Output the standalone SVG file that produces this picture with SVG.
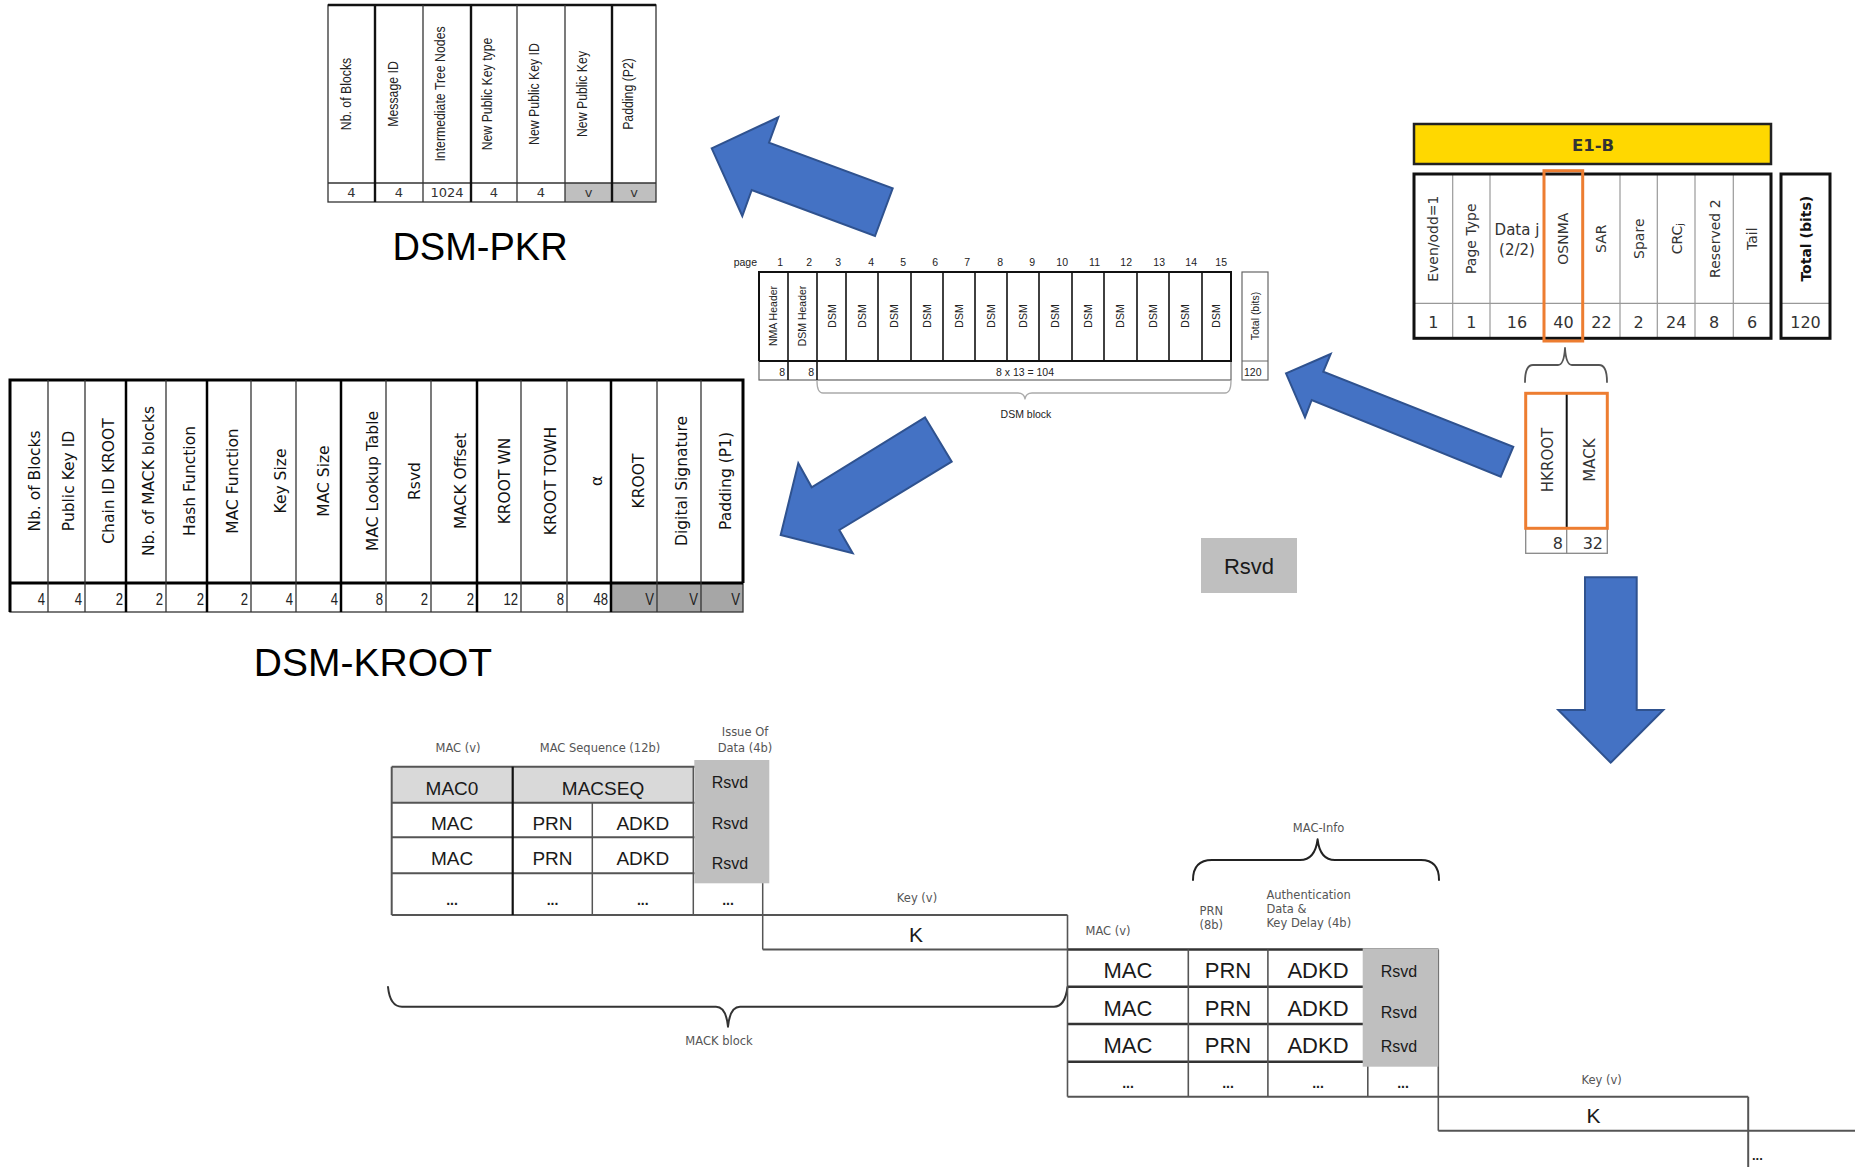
<svg xmlns="http://www.w3.org/2000/svg" width="1855" height="1167" viewBox="0 0 1855 1167">
<style>
.bg{fill:#fff}
.arrow{fill:#4472C4;stroke:#2F528F;stroke-width:2;stroke-linejoin:miter}
.thick{stroke:#111;stroke-width:2.4;fill:none}
.thin{stroke:#333;stroke-width:1.3;fill:none}
.gline{stroke:#999;stroke-width:1.2;fill:none}
.pk{font-family:"Liberation Sans",Arial,sans-serif;font-size:15px;fill:#222}
.pkv{font-family:"DejaVu Sans",Verdana,sans-serif;font-size:13px;fill:#333}
.kr{font-family:"DejaVu Sans",Verdana,sans-serif;font-size:15.5px;fill:#111}
.krv{font-family:"Liberation Sans",Arial,sans-serif;font-size:16px;fill:#222}
.title{font-family:"Liberation Sans",Arial,sans-serif;fill:#000}
.ds{font-family:"Liberation Sans",Arial,sans-serif;font-size:10.5px;fill:#222}
.dj{font-family:"DejaVu Sans",Verdana,sans-serif;fill:#333}
.sm{font-family:"DejaVu Sans",Verdana,sans-serif;font-size:11.5px;fill:#555}
.big{font-family:"Liberation Sans",Arial,sans-serif;fill:#1a1a1a}
.orange{fill:none;stroke:#ED7D31;stroke-width:3}
.brace{fill:none;stroke-linecap:round;stroke-linejoin:round}
</style>
<rect class="bg" x="0" y="0" width="1855" height="1167"/>

<!-- DSM-PKR -->
<g id="dsm-pkr">
  <rect x="565" y="183" width="91" height="19" fill="#BFBFBF"/>
  <rect x="328" y="5" width="328" height="197" class="thin"/>
  <line x1="328" y1="5" x2="656" y2="5" class="thick"/>
  <line x1="328" y1="183" x2="656" y2="183" class="thin"/>
  <line x1="375" y1="5" x2="375" y2="202" class="thick"/>
  <line x1="423" y1="5" x2="423" y2="202" class="thin"/>
  <line x1="471" y1="5" x2="471" y2="202" class="thick"/>
  <line x1="517" y1="5" x2="517" y2="202" class="thin"/>
  <line x1="565" y1="5" x2="565" y2="202" class="thin"/>
  <line x1="612" y1="5" x2="612" y2="202" class="thick"/>
  <g class="pk" text-anchor="middle" dominant-baseline="central">
    <text transform="translate(346 94) rotate(-90) scale(0.82 1)">Nb. of Blocks</text>
    <text transform="translate(393 94) rotate(-90) scale(0.82 1)">Message ID</text>
    <text transform="translate(440 94) rotate(-90) scale(0.82 1)">Intermediate Tree Nodes</text>
    <text transform="translate(487 94) rotate(-90) scale(0.82 1)">New Public Key type</text>
    <text transform="translate(534 94) rotate(-90) scale(0.82 1)">New Public Key ID</text>
    <text transform="translate(582 94) rotate(-90) scale(0.82 1)">New Public Key</text>
    <text transform="translate(628 94) rotate(-90) scale(0.82 1)">Padding (P2)</text>
  </g>
  <g class="pkv" text-anchor="middle">
    <text x="351.5" y="197">4</text>
    <text x="399" y="197">4</text>
    <text x="447" y="197">1024</text>
    <text x="494" y="197">4</text>
    <text x="541" y="197">4</text>
    <text x="588.5" y="197">v</text>
    <text x="634" y="197">v</text>
  </g>
  <text class="title" x="480" y="260" font-size="38" text-anchor="middle">DSM-PKR</text>
</g>

<!-- DSM-KROOT -->
<g id="dsm-kroot">
  <rect x="611" y="583" width="132" height="29" fill="#A6A6A6"/>
  <rect x="10" y="380" width="733" height="232" class="thin"/>
  <path d="M10 612 V380 H743 V583 M10 583 H743" fill="none" stroke="#000" stroke-width="3"/>
  <g class="thin">
    <line x1="48" y1="380" x2="48" y2="612"/><line x1="85" y1="380" x2="85" y2="612"/>
    <line x1="166" y1="380" x2="166" y2="612"/><line x1="251" y1="380" x2="251" y2="612"/>
    <line x1="296" y1="380" x2="296" y2="612"/><line x1="386" y1="380" x2="386" y2="612"/>
    <line x1="431" y1="380" x2="431" y2="612"/><line x1="521" y1="380" x2="521" y2="612"/>
    <line x1="567" y1="380" x2="567" y2="612"/><line x1="657" y1="380" x2="657" y2="612"/>
    <line x1="701" y1="380" x2="701" y2="612"/>
  </g>
  <g stroke="#000" stroke-width="2.5">
    <line x1="126" y1="380" x2="126" y2="612"/><line x1="207" y1="380" x2="207" y2="612"/>
    <line x1="341" y1="380" x2="341" y2="612"/><line x1="477" y1="380" x2="477" y2="612"/>
    <line x1="611" y1="380" x2="611" y2="612"/>
  </g>
  <g class="kr" text-anchor="middle" dominant-baseline="central">
    <text transform="translate(35 481) rotate(-90)">Nb. of Blocks</text>
    <text transform="translate(69 481) rotate(-90)">Public Key ID</text>
    <text transform="translate(109 481) rotate(-90)">Chain ID KROOT</text>
    <text transform="translate(149 481) rotate(-90)">Nb. of MACK blocks</text>
    <text transform="translate(190 481) rotate(-90)">Hash Function</text>
    <text transform="translate(233 481) rotate(-90)">MAC Function</text>
    <text transform="translate(281 481) rotate(-90)">Key Size</text>
    <text transform="translate(324 481) rotate(-90)">MAC Size</text>
    <text transform="translate(373 481) rotate(-90)">MAC Lookup Table</text>
    <text transform="translate(415 481) rotate(-90)">Rsvd</text>
    <text transform="translate(461 481) rotate(-90)">MACK Offset</text>
    <text transform="translate(505 481) rotate(-90)">KROOT WN</text>
    <text transform="translate(551 481) rotate(-90)">KROOT TOWH</text>
    <text transform="translate(597 481) rotate(-90)">α</text>
    <text transform="translate(639 481) rotate(-90)">KROOT</text>
    <text transform="translate(682 481) rotate(-90)">Digital Signature</text>
    <text transform="translate(726 481) rotate(-90)">Padding (P1)</text>
  </g>
  <g class="krv" text-anchor="end">
    <text transform="translate(45 605) scale(0.82 1)">4</text>
    <text transform="translate(82 605) scale(0.82 1)">4</text>
    <text transform="translate(123 605) scale(0.82 1)">2</text>
    <text transform="translate(163 605) scale(0.82 1)">2</text>
    <text transform="translate(204 605) scale(0.82 1)">2</text>
    <text transform="translate(248 605) scale(0.82 1)">2</text>
    <text transform="translate(293 605) scale(0.82 1)">4</text>
    <text transform="translate(338 605) scale(0.82 1)">4</text>
    <text transform="translate(383 605) scale(0.82 1)">8</text>
    <text transform="translate(428 605) scale(0.82 1)">2</text>
    <text transform="translate(474 605) scale(0.82 1)">2</text>
    <text transform="translate(518 605) scale(0.82 1)">12</text>
    <text transform="translate(564 605) scale(0.82 1)">8</text>
    <text transform="translate(608 605) scale(0.82 1)">48</text>
    <text transform="translate(654 605) scale(0.82 1)">V</text>
    <text transform="translate(698 605) scale(0.82 1)">V</text>
    <text transform="translate(740 605) scale(0.82 1)">V</text>
  </g>
  <text class="title" x="373" y="676" font-size="39" text-anchor="middle">DSM-KROOT</text>
</g>

<!-- DSM block table -->
<g id="dsm-block">
  <text class="ds" x="757" y="266" text-anchor="end">page</text>
  <g class="ds" text-anchor="end">
    <text x="783" y="266">1</text><text x="812" y="266">2</text><text x="841" y="266">3</text>
    <text x="874" y="266">4</text><text x="906" y="266">5</text><text x="938" y="266">6</text>
    <text x="970" y="266">7</text><text x="1003" y="266">8</text><text x="1035" y="266">9</text>
    <text x="1068" y="266">10</text><text x="1100" y="266">11</text><text x="1132" y="266">12</text>
    <text x="1165" y="266">13</text><text x="1197" y="266">14</text><text x="1227" y="266">15</text>
  </g>
  <rect x="759" y="272" width="472" height="108" fill="none" stroke="#666" stroke-width="1.2"/>
  <path d="M759 361 V272 H1231 V361 H759" fill="none" stroke="#111" stroke-width="2"/>
  <g stroke="#111" stroke-width="1.6">
    <line x1="788" y1="272" x2="788" y2="380"/><line x1="817" y1="272" x2="817" y2="380"/>
    <line x1="846" y1="272" x2="846" y2="361"/><line x1="878" y1="272" x2="878" y2="361"/>
    <line x1="911" y1="272" x2="911" y2="361"/><line x1="943" y1="272" x2="943" y2="361"/>
    <line x1="975" y1="272" x2="975" y2="361"/><line x1="1007" y1="272" x2="1007" y2="361"/>
    <line x1="1039" y1="272" x2="1039" y2="361"/><line x1="1072" y1="272" x2="1072" y2="361"/>
    <line x1="1104" y1="272" x2="1104" y2="361"/><line x1="1137" y1="272" x2="1137" y2="361"/>
    <line x1="1169" y1="272" x2="1169" y2="361"/><line x1="1202" y1="272" x2="1202" y2="361"/>
  </g>
  <g class="ds" text-anchor="middle" dominant-baseline="central">
    <text transform="translate(773 316) rotate(-90)">NMA  Header</text>
    <text transform="translate(802 316) rotate(-90)">DSM Header</text>
  </g>
  <g class="ds" font-size="11" text-anchor="middle" dominant-baseline="central">
    <text transform="translate(832 316) rotate(-90)">DSM</text>
    <text transform="translate(862 316) rotate(-90)">DSM</text>
    <text transform="translate(894 316) rotate(-90)">DSM</text>
    <text transform="translate(927 316) rotate(-90)">DSM</text>
    <text transform="translate(959 316) rotate(-90)">DSM</text>
    <text transform="translate(991 316) rotate(-90)">DSM</text>
    <text transform="translate(1023 316) rotate(-90)">DSM</text>
    <text transform="translate(1055 316) rotate(-90)">DSM</text>
    <text transform="translate(1088 316) rotate(-90)">DSM</text>
    <text transform="translate(1120 316) rotate(-90)">DSM</text>
    <text transform="translate(1153 316) rotate(-90)">DSM</text>
    <text transform="translate(1185 316) rotate(-90)">DSM</text>
    <text transform="translate(1216 316) rotate(-90)">DSM</text>
  </g>
  <g class="ds">
    <text x="785" y="376" text-anchor="end">8</text>
    <text x="814" y="376" text-anchor="end">8</text>
    <text x="1025" y="376" text-anchor="middle">8 x 13 = 104</text>
  </g>
  <rect x="1242" y="272" width="26" height="108" fill="none" stroke="#666" stroke-width="1.2"/>
  <line x1="1242" y1="361" x2="1268" y2="361" stroke="#666" stroke-width="1"/>
  <text class="ds" transform="translate(1255 316) rotate(-90)" text-anchor="middle" dominant-baseline="central" font-size="10">Total (bits)</text>
  <text class="ds" x="1244" y="376">120</text>
  <path class="brace" d="M817 381 Q817 393 823 393 L1018 393 Q1024 393 1025 399 Q1026 393 1032 393 L1225 393 Q1231 393 1231 381" stroke="#aaa" stroke-width="1.3"/>
  <text class="ds" x="1026" y="418" text-anchor="middle" font-size="11" fill="#333">DSM block</text>
</g>

<!-- E1-B page -->
<g id="e1b">
  <rect x="1414" y="124" width="357" height="40" fill="#FFD800" stroke="#222" stroke-width="2.5"/>
  <text class="dj" x="1593" y="151" font-size="16.5" font-weight="bold" text-anchor="middle" fill="#111">E1-B</text>
  <g class="gline">
    <line x1="1414" y1="303.3" x2="1771" y2="303.3"/>
    <line x1="1452.7" y1="174" x2="1452.7" y2="338"/><line x1="1490" y1="174" x2="1490" y2="338"/>
    <line x1="1544" y1="174" x2="1544" y2="338"/><line x1="1582.7" y1="174" x2="1582.7" y2="338"/>
    <line x1="1620" y1="174" x2="1620" y2="338"/><line x1="1657.3" y1="174" x2="1657.3" y2="338"/>
    <line x1="1695" y1="174" x2="1695" y2="338"/><line x1="1733.3" y1="174" x2="1733.3" y2="338"/>
    <line x1="1781" y1="303.3" x2="1830" y2="303.3"/>
  </g>
  <rect x="1414" y="174" width="357" height="164.3" fill="none" stroke="#111" stroke-width="3"/>
  <rect x="1781" y="174" width="49" height="164.3" fill="none" stroke="#111" stroke-width="3"/>
  <g class="dj" font-size="14" text-anchor="middle" dominant-baseline="central">
    <text transform="translate(1433.4 238.7) rotate(-90)">Even/odd=1</text>
    <text transform="translate(1471.4 238.7) rotate(-90)">Page Type</text>
    <text transform="translate(1563.4 238.7) rotate(-90)">OSNMA</text>
    <text transform="translate(1601.4 238.7) rotate(-90)">SAR</text>
    <text transform="translate(1639 238.7) rotate(-90)">Spare</text>
    <text transform="translate(1677 238.7) rotate(-90)">CRC<tspan font-size="9" dy="3">j</tspan></text>
    <text transform="translate(1714.5 238.7) rotate(-90)">Reserved 2</text>
    <text transform="translate(1752 238.7) rotate(-90)">Tail</text>
    <text transform="translate(1806 238.7) rotate(-90)" font-weight="bold" fill="#111">Total (bits)</text>
  </g>
  <g class="dj" font-size="15" text-anchor="middle" fill="#555">
    <text x="1517" y="235">Data j</text>
    <text x="1517" y="255">(2/2)</text>
  </g>
  <g class="dj" font-size="16" text-anchor="middle">
    <text x="1433.4" y="328.3">1</text><text x="1471.4" y="328.3">1</text>
    <text x="1517" y="328.3">16</text><text x="1563.4" y="328.3">40</text>
    <text x="1601.4" y="328.3">22</text><text x="1638.7" y="328.3">2</text>
    <text x="1676.2" y="328.3">24</text><text x="1714.2" y="328.3">8</text>
    <text x="1752.2" y="328.3">6</text><text x="1805.5" y="328.3">120</text>
  </g>
  <rect class="orange" x="1544" y="170.7" width="38.7" height="170.3"/>
</g>

<!-- OSNMA split -->
<g id="osnma-split">
  <path class="brace" d="M1525 382 Q1525 365 1533 365 L1558 365 Q1564 365 1565 348 Q1566 365 1572 365 L1599 365 Q1607 365 1607 382" stroke="#555" stroke-width="1.8"/>
  <rect x="1525.7" y="528.3" width="81.6" height="25" fill="none" stroke="#888" stroke-width="1.3"/>
  <line x1="1566.7" y1="528.3" x2="1566.7" y2="553.3" stroke="#888" stroke-width="1.3"/>
  <line x1="1566.7" y1="393.3" x2="1566.7" y2="528.3" stroke="#111" stroke-width="2"/>
  <rect class="orange" x="1525.7" y="393.3" width="81.6" height="135"/>
  <g class="dj" font-size="15" text-anchor="middle" dominant-baseline="central">
    <text transform="translate(1548 460) rotate(-90)">HKROOT</text>
    <text transform="translate(1590 460) rotate(-90)">MACK</text>
  </g>
  <g class="dj" font-size="16" text-anchor="end">
    <text x="1563" y="548.5">8</text>
    <text x="1603" y="548.5">32</text>
  </g>
</g>

<!-- Standalone Rsvd -->
<g id="rsvd">
  <rect x="1201" y="538" width="96" height="55" fill="#BFBFBF"/>
  <text class="big" x="1249" y="574" font-size="22" text-anchor="middle">Rsvd</text>
</g>

<!-- MACK block table -->
<g id="mack-table">
  <g class="sm" text-anchor="middle">
    <text x="458" y="752">MAC (v)</text>
    <text x="600" y="752">MAC Sequence (12b)</text>
    <text x="745" y="736">Issue Of</text>
    <text x="745" y="752">Data (4b)</text>
  </g>
  <rect x="391.7" y="766.7" width="301.6" height="36" fill="#D9D9D9"/>
  <g stroke="#555" stroke-width="2" fill="none">
    <line x1="391.7" y1="766.7" x2="762.7" y2="766.7"/>
    <line x1="391.7" y1="802.7" x2="762.7" y2="802.7"/>
    <line x1="391.7" y1="837.3" x2="762.7" y2="837.3"/>
    <line x1="391.7" y1="873.3" x2="762.7" y2="873.3"/>
    <line x1="391.7" y1="915" x2="762.7" y2="915"/>
    <line x1="391.7" y1="766.7" x2="391.7" y2="915"/>
    <line x1="592.3" y1="802.7" x2="592.3" y2="915" stroke-width="1.5"/>
    <line x1="693.3" y1="766.7" x2="693.3" y2="915" stroke-width="1.5"/>
    <line x1="762.7" y1="766.7" x2="762.7" y2="949.5" stroke-width="1.5"/>
  </g>
  <line x1="512.7" y1="766.7" x2="512.7" y2="915" stroke="#111" stroke-width="2.2"/>
  <rect x="694.3" y="760" width="75" height="123.3" fill="#BFBFBF"/>
  <g class="big" font-size="19" text-anchor="middle">
    <text x="452" y="795">MAC0</text>
    <text x="603" y="795">MACSEQ</text>
    <text x="452" y="830">MAC</text><text x="552.5" y="830">PRN</text><text x="642.8" y="830">ADKD</text>
    <text x="452" y="865">MAC</text><text x="552.5" y="865">PRN</text><text x="642.8" y="865">ADKD</text>
  </g>
  <g class="big" font-size="14" font-weight="bold" text-anchor="middle" fill="#333">
    <text x="452" y="905">...</text><text x="552.5" y="905">...</text>
    <text x="642.8" y="905">...</text><text x="728" y="905">...</text>
  </g>
  <g class="big" font-size="16" text-anchor="middle">
    <text x="730" y="788">Rsvd</text>
    <text x="730" y="829">Rsvd</text>
    <text x="730" y="869">Rsvd</text>
  </g>
</g>

<!-- Key 1 -->
<g id="key1">
  <text class="sm" x="917" y="901.7" text-anchor="middle">Key (v)</text>
  <g stroke="#555" stroke-width="2" fill="none">
    <line x1="762.7" y1="915" x2="1067.5" y2="915"/>
    <line x1="762.7" y1="949.5" x2="1067.5" y2="949.5"/>
  </g>
  <text class="big" x="916" y="942" font-size="21" text-anchor="middle">K</text>
</g>

<!-- MACK block brace -->
<g id="mack-brace">
  <path class="brace" d="M388 987 Q390 1006.7 402 1006.7 L716 1006.7 Q726 1006.7 728 1026.7 Q730 1006.7 740 1006.7 L1054 1006.7 Q1065 1006.7 1067.5 987" stroke="#333" stroke-width="2"/>
  <text class="sm" x="719" y="1045" text-anchor="middle">MACK block</text>
</g>

<!-- MAC-Info table -->
<g id="macinfo-table">
  <path class="brace" d="M1193 880 Q1193 860 1212 860 L1300 860 Q1315 860 1317.6 839.3 Q1320 860 1335 860 L1421 860 Q1439 860 1439 880" stroke="#222" stroke-width="2"/>
  <text class="sm" x="1318.6" y="832" text-anchor="middle">MAC-Info</text>
  <g class="sm">
    <text x="1108" y="935" text-anchor="middle">MAC (v)</text>
    <text x="1199.5" y="915">PRN</text>
    <text x="1199.5" y="929">(8b)</text>
    <text x="1266.4" y="899">Authentication</text>
    <text x="1266.4" y="913">Data &amp;</text>
    <text x="1266.4" y="927">Key Delay (4b)</text>
  </g>
  <g stroke="#333" stroke-width="2.4" fill="none">
    <line x1="1067.5" y1="949.5" x2="1438.3" y2="949.5"/>
    <line x1="1067.5" y1="986.7" x2="1438.3" y2="986.7"/>
    <line x1="1067.5" y1="1024" x2="1438.3" y2="1024"/>
    <line x1="1067.5" y1="1061.7" x2="1438.3" y2="1061.7"/>
    <line x1="1067.5" y1="1096.7" x2="1748.2" y2="1096.7" stroke="#555" stroke-width="2"/>
  </g>
  <g stroke="#555" stroke-width="1.6" fill="none">
    <line x1="1067.5" y1="915" x2="1067.5" y2="1096.7"/>
    <line x1="1188.3" y1="949.5" x2="1188.3" y2="1096.7"/>
    <line x1="1267.9" y1="949.5" x2="1267.9" y2="1096.7"/>
    <line x1="1367.8" y1="949.5" x2="1367.8" y2="1096.7"/>
    <line x1="1438.3" y1="949.5" x2="1438.3" y2="1130.7"/>
  </g>
  <rect x="1362.7" y="948.3" width="75.6" height="118.4" fill="#BFBFBF"/>
  <g class="big" font-size="22" text-anchor="middle">
    <text x="1128" y="978">MAC</text><text x="1228" y="978">PRN</text><text x="1318" y="978">ADKD</text>
    <text x="1128" y="1016">MAC</text><text x="1228" y="1016">PRN</text><text x="1318" y="1016">ADKD</text>
    <text x="1128" y="1053">MAC</text><text x="1228" y="1053">PRN</text><text x="1318" y="1053">ADKD</text>
  </g>
  <g class="big" font-size="14" font-weight="bold" text-anchor="middle" fill="#333">
    <text x="1128" y="1088">...</text><text x="1228" y="1088">...</text>
    <text x="1318" y="1088">...</text><text x="1403" y="1088">...</text>
  </g>
  <g class="big" font-size="16" text-anchor="middle">
    <text x="1399" y="977">Rsvd</text>
    <text x="1399" y="1018">Rsvd</text>
    <text x="1399" y="1052">Rsvd</text>
  </g>
</g>

<!-- Key 2 -->
<g id="key2">
  <text class="sm" x="1601.6" y="1084" text-anchor="middle">Key (v)</text>
  <g stroke="#555" stroke-width="2" fill="none">
    <line x1="1438.3" y1="1130.7" x2="1855" y2="1130.7"/>
    <line x1="1748.2" y1="1096.7" x2="1748.2" y2="1167"/>
  </g>
  <text class="big" x="1593.5" y="1123" font-size="21" text-anchor="middle">K</text>
  <text class="big" x="1752" y="1160" font-size="13" font-weight="bold" fill="#333">...</text>
</g>

<!-- Connectors (block arrows) -->
<g id="connectors">
  <polygon class="arrow" points="711.7,148.3 778.3,117.3 769,142.7 892.7,188.3 875,236 751.7,190 742.3,216"/>
  <polygon class="arrow" points="780.7,535 798.3,463.3 811.7,487.3 925,417.3 951.7,461.7 839.3,530 852.7,553.3"/>
  <polygon class="arrow" points="1286,373.3 1330.7,354 1323.3,371.7 1513.3,446.7 1500.7,476.7 1311.7,400 1305,417.3"/>
  <polygon class="arrow" points="1585,577.3 1636.7,577.3 1636.7,710 1663.3,710 1610.7,762.7 1558.3,710 1585,710"/>
</g>
</svg>
